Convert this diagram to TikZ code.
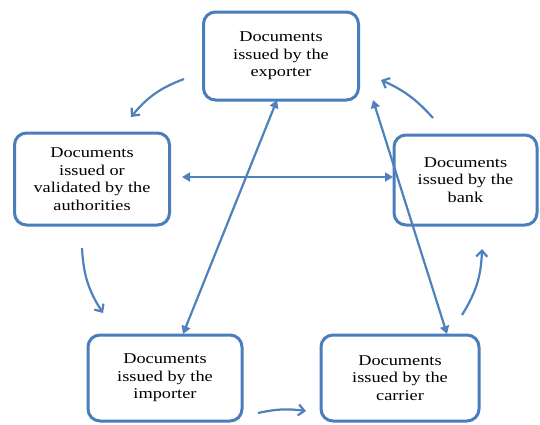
\documentclass[tikz,border=0pt]{standalone}
\usepackage{fontspec}
\setmainfont{Liberation Serif}[FakeStretch=1.22]
\usetikzlibrary{arrows.meta}
\definecolor{boxblue}{RGB}{74,126,187}
\definecolor{arrowblue}{RGB}{79,129,189}
\begin{document}
\begin{tikzpicture}[x=1pt,y=-1pt,
  docbox/.style={draw=boxblue, line width=3pt, rounded corners=12pt, fill=white,
    align=center, font=\fontsize{15}{17.5}\selectfont, inner sep=0pt},
  link/.style={draw=arrowblue, line width=2.2pt, {Triangle[length=8pt,width=9pt]}-{Triangle[length=8pt,width=9pt]}},
  flow/.style={draw=arrowblue, line width=2.2pt, -{Straight Barb[length=6pt,width=11pt]}}]
\useasboundingbox (0,0) rectangle (540,424);
% boxes
\node[docbox, minimum width=155pt, minimum height=88pt] (exp) at (281,56) {Documents\\issued by the\\exporter};
\node[docbox, minimum width=155pt, minimum height=92pt] (aut) at (92,179) {Documents\\issued or\\validated by the\\authorities};
\node[docbox, minimum width=143pt, minimum height=90pt] (bank) at (465.5,180) {Documents\\issued by the\\bank};
\node[docbox, minimum width=154pt, minimum height=86pt] (imp) at (165,378) {Documents\\issued by the\\importer};
\node[docbox, minimum width=158pt, minimum height=86pt] (car) at (400,378) {Documents\\issued by the\\carrier};
% straight two-way connectors
\coordinate (autE) at (182,177);
\coordinate (bankW) at (393,177);
\draw[link] (autE) -- (bankW);
\coordinate (expS1) at (277,100);
\coordinate (impN) at (183,334);
\draw[link] (expS1) -- (impN);
\coordinate (expS2) at (373,100);
\coordinate (carN) at (447,334);
\draw[link] (expS2) -- (carN);
% curved cycle arrows
\coordinate (a1) at (184,79);  \coordinate (a2) at (131,117);
\draw[flow] (a1) to[bend right=15] (a2);
\coordinate (b1) at (82,248);  \coordinate (b2) at (103,313);
\draw[flow] (b1) to[bend right=15] (b2);
\coordinate (c1) at (258,413);  \coordinate (c2) at (306,411);
\draw[flow] (c1) to[bend left=10] (c2);
\coordinate (d1) at (462,315);  \coordinate (d2) at (482,249);
\draw[flow] (d1) to[bend right=15] (d2);
\coordinate (e1) at (433,118);  \coordinate (e2) at (381,80);
\draw[flow] (e1) to[bend right=12] (e2);
\end{tikzpicture}
\end{document}
